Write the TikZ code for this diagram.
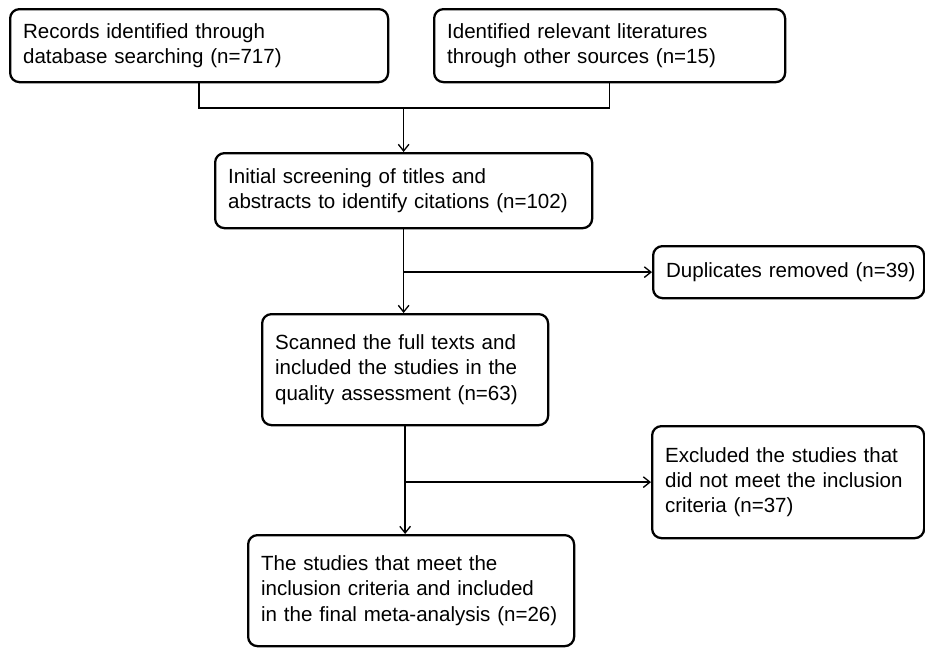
\documentclass[tikz,border=0pt]{standalone}
\usepackage{fontspec}
\setmainfont{Liberation Sans}
\usetikzlibrary{arrows.meta, positioning}

\begin{document}
\begin{tikzpicture}[
    x=0.75pt, y=-0.75pt,
    box/.style={rectangle, draw, line width=1.7pt, rounded corners=7pt, anchor=north west, inner xsep=9.75pt, inner ysep=0pt, align=left, font=\fontsize{15.4}{18.9}\selectfont},
    arrow/.style={-{Straight Barb[length=5pt, width=8pt]}, line width=1pt},
    link/.style={line width=1pt}
]
    \useasboundingbox (0,0) rectangle (925,647);

    \node[box, text width=264pt, minimum height=54.75pt] (records) at (9,8) {Records identified through\\database searching (n=717)};
    \node[box, text width=243.75pt, minimum height=54.75pt] (other) at (433,8) {Identified relevant literatures\\through other sources (n=15)};
    \node[box, text width=263.25pt, minimum height=56.25pt] (screen) at (214,152) {Initial screening of titles and\\\mbox{abstracts to identify citations (n=102)}};
    \node[box, text width=183.75pt, minimum height=39pt] (dup) at (652,245) {\mbox{Duplicates removed (n=39)}};
    \node[box, text width=184.5pt, minimum height=84pt] (excl) at (651,425) {Excluded the studies that\\\mbox{did not meet the inclusion}\\criteria (n=37)};
    \node[box, text width=195pt, minimum height=83.25pt] (full) at (261,313) {Scanned the full texts and\\included the studies in the\\quality assessment (n=63)};
    \node[box, text width=225pt, minimum height=83.25pt] (final) at (247,534) {The studies that meet the\\inclusion criteria and included\\\mbox{in the final meta-analysis (n=26)}};

    % merge of the two sources
    \coordinate (merge) at (screen.north |- 0,108);
    \draw[link] (records.south) |- (merge) -| (other.south);
    \draw[arrow] (merge) -- (screen.north);

    % main flow and exclusions
    \coordinate (split1) at (screen.south |- dup.west);
    \coordinate (split2) at (full.south |- excl.west);
    \draw[arrow] (screen.south) -- (screen.south |- full.north);
    \draw[arrow] (split1) -- (dup.west);
    \draw[arrow] (full.south) -- (full.south |- final.north);
    \draw[arrow] (split2) -- (excl.west);
\end{tikzpicture}
\end{document}
